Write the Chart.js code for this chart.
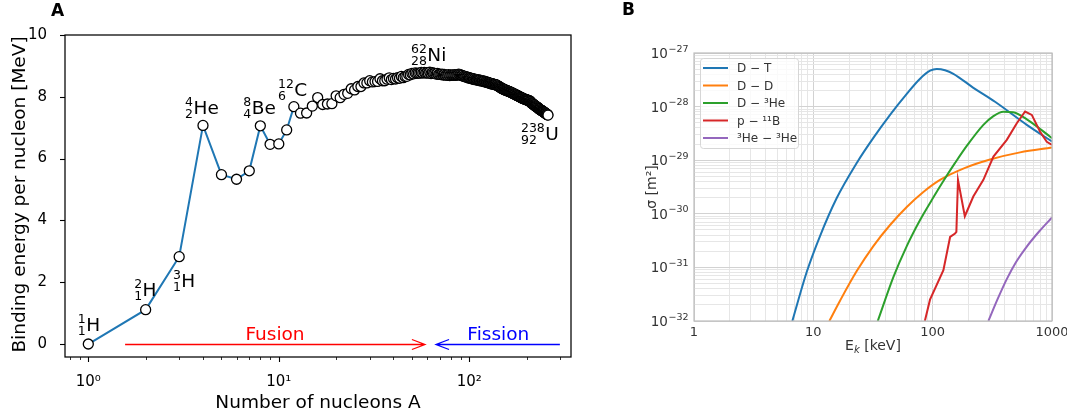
<!DOCTYPE html>
<html>
<head>
<meta charset="utf-8">
<script src="https://cdn.jsdelivr.net/npm/chart.js@4.4.1/dist/chart.umd.min.js"></script>
<style>
  body { margin: 0; background: #fff; }
  #panelA { position: absolute; left: 0; top: 0; }
  #panelB { position: absolute; left: 600px; top: 0; }
</style>
</head>
<body>
<canvas id="panelA" width="600" height="416"></canvas>
<canvas id="panelB" width="467" height="416"></canvas>
<script>
Chart.defaults.font.family = '"DejaVu Sans", sans-serif';

// ---------- panel A: binding energy per nucleon, one value per mass number A = 1, 2, 3 ...
const bindingEnergy = [
  0.000, 1.112, 2.827, 7.074, 5.480, 5.332, 5.606, 7.062, 6.463, 6.475,
  6.928, 7.680, 7.470, 7.476, 7.699, 7.976, 7.751, 7.767, 7.779, 8.032,
  7.972, 8.081, 8.112, 8.261, 8.224, 8.334, 8.332, 8.448, 8.449, 8.521,
  8.481, 8.493, 8.498, 8.584, 8.520, 8.520, 8.570, 8.614, 8.557, 8.595,
  8.576, 8.617, 8.600, 8.658, 8.619, 8.656, 8.661, 8.723, 8.711, 8.756,
  8.742, 8.776, 8.760, 8.764, 8.765, 8.790, 8.770, 8.792, 8.768, 8.781,
  8.765, 8.795, 8.752, 8.778, 8.757, 8.760, 8.734, 8.756, 8.725, 8.730,
  8.718, 8.732, 8.705, 8.725, 8.701, 8.711, 8.695, 8.718, 8.688, 8.711,
  8.696, 8.711, 8.696, 8.717, 8.697, 8.712, 8.705, 8.733, 8.714, 8.710,
  8.693, 8.693, 8.664, 8.667, 8.649, 8.654, 8.635, 8.635, 8.609, 8.619,
  8.601, 8.607, 8.584, 8.587, 8.571, 8.580, 8.554, 8.561, 8.548, 8.551,
  8.537, 8.545, 8.527, 8.539, 8.514, 8.523, 8.510, 8.517, 8.499, 8.505,
  8.482, 8.488, 8.472, 8.474, 8.458, 8.463, 8.446, 8.443, 8.431, 8.437,
  8.416, 8.428, 8.410, 8.412, 8.398, 8.403, 8.392, 8.393, 8.378, 8.376,
  8.355, 8.347, 8.330, 8.327, 8.309, 8.304, 8.284, 8.278, 8.264, 8.261,
  8.244, 8.244, 8.229, 8.227, 8.213, 8.215, 8.204, 8.202, 8.189, 8.184,
  8.173, 8.174, 8.162, 8.161, 8.147, 8.142, 8.132, 8.130, 8.115, 8.106,
  8.098, 8.097, 8.087, 8.085, 8.070, 8.064, 8.052, 8.049, 8.038, 8.035,
  8.024, 8.018, 8.008, 8.005, 7.991, 7.985, 7.978, 7.973, 7.963, 7.963,
  7.948, 7.948, 7.934, 7.936, 7.927, 7.926, 7.916, 7.914, 7.905, 7.906,
  7.895, 7.896, 7.886, 7.880, 7.874, 7.875, 7.870, 7.868, 7.848, 7.834,
  7.811, 7.804, 7.792, 7.785, 7.772, 7.765, 7.753, 7.747, 7.734, 7.727,
  7.715, 7.709, 7.697, 7.692, 7.680, 7.675, 7.663, 7.658, 7.647, 7.644,
  7.633, 7.615, 7.604, 7.600, 7.591, 7.586, 7.576, 7.570, 7.560, 7.556,
  7.546, 7.541, 7.531, 7.526, 7.516, 7.511, 7.501, 7.496, 7.485, 7.480,
  7.470, 7.465, 7.455, 7.449, 7.439, 7.434, 7.423, 7.417, 7.407
];
const massNumbers = bindingEnergy.map((_, i) => i + 1);

const yTicksA = [0, 2, 4, 6, 8, 10];
const xTicksA = [1, 10, 100];
const xTickLabelsA = ['10⁰', '10¹', '10²'];

const isotopeMass = ['1', '2', '3', '4', '8', '12', '62', '238'];
const isotopeZ = ['1', '1', '1', '2', '4', '6', '28', '92'];
const isotopeSymbol = ['H', 'H', 'H', 'He', 'Be', 'C', 'Ni', 'U'];

// label anchors in data units (A, MeV): left edge of the numbers, baseline of the symbol
const isotopeLabelPos = [
  [0.88, 0.41], [1.74, 1.54], [2.78, 1.84], [3.22, 7.45],
  [6.51, 7.45], [9.9, 8.02], [49.4, 9.17], [186.8, 6.59]
];

// ---------- panel B: cross sections (E in keV, sigma in m^2)
const energyDT = [6.67, 8.80, 11.38, 15.71, 23.11, 31.84, 43.95, 60.67, 78.4, 95.1, 108.2, 127, 149.1, 219.4, 333, 615, 1000];
const sigmaDT = [1.0e-32, 8.2e-32, 3.85e-31, 1.97e-30, 8.9e-30, 2.61e-29, 7.03e-29, 1.73e-28, 3.31e-28, 4.67e-28, 5.02e-28, 4.77e-28, 4.10e-28, 2.24e-28, 1.23e-28, 4.57e-29, 2.23e-29];

const energyDD = [13.62, 16.74, 23.11, 31.84, 43.95, 60.67, 83.56, 115.3, 186.9, 302.8, 540.2, 1000];
const sigmaDD = [1.0e-32, 2.39e-32, 8.53e-32, 2.50e-31, 6.18e-31, 1.34e-30, 2.55e-30, 4.28e-30, 7.18e-30, 1.03e-29, 1.40e-29, 1.72e-29];

const energyDHe = [34.66, 46.84, 60.67, 78.43, 98.3, 122.98, 154.1, 193.1, 266.1, 320.8, 391.4, 472.1, 615, 1000];
const sigmaDHe = [1.0e-32, 6.59e-32, 2.50e-31, 7.66e-31, 1.81e-30, 4.10e-30, 8.9e-30, 1.85e-29, 4.57e-29, 6.59e-29, 8.0e-29, 7.82e-29, 5.79e-29, 2.58e-29];

const energyPB = [86, 95, 123, 140, 154, 158, 163, 186, 219, 266, 323, 418, 507, 595, 677, 795, 904, 1000];
const sigmaPB = [1e-32, 2.5e-32, 8.9e-32, 3.7e-31, 4.3e-31, 4.6e-31, 4.3e-30, 9.0e-31, 2.1e-30, 4.3e-30, 1.17e-29, 2.4e-29, 4.9e-29, 8.1e-29, 7.0e-29, 3.4e-29, 2.2e-29, 1.94e-29];

const energyHeHe = [293.1, 349.9, 417.9, 500.1, 615, 779.6, 1000];
const sigmaHeHe = [1.0e-32, 2.55e-32, 6.04e-32, 1.26e-31, 2.45e-31, 4.67e-31, 8.53e-31];

const reactionLabels = ['D − T', 'D − D', 'D − ³He', 'p − ¹¹B', '³He − ³He'];
const reactionColors = ['#1f77b4', '#ff7f0e', '#2ca02c', '#d62728', '#9467bd'];

const energyTicks = [1, 10, 100, 1000];
const energyTickLabels = ['1', '10', '100', '1000'];
const sigmaTicks = [1e-32, 1e-31, 1e-30, 1e-29, 1e-28, 1e-27];
const sigmaTickExponents = ['−32', '−31', '−30', '−29', '−28', '−27'];

// 2..9 between the decades
function minorTicks(majors) {
  const out = [];
  majors.slice(0, -1).forEach(d => {
    for (let m = 2; m <= 9; m++) out.push(m * d);
  });
  return out;
}

// ---------- panel A extras: box, tick marks, isotope names, arrows, titles
const panelAExtras = {
  id: 'panelAExtras',
  afterDraw(chart) {
    const { ctx, chartArea: area, scales: { x, y } } = chart;
    ctx.save();
    ctx.strokeStyle = '#000';

    // tick marks (outside)
    const minorX = minorTicks([0.1, 1, 10, 100, 1000]).filter(v => v >= x.min && v <= x.max);
    const markX = (v, len, w) => {
      const px = Math.round(x.getPixelForValue(v)) + 0.5;
      ctx.lineWidth = w;
      ctx.beginPath(); ctx.moveTo(px, area.bottom); ctx.lineTo(px, area.bottom + len); ctx.stroke();
    };
    xTicksA.forEach(v => markX(v, 5, 1.1));
    minorX.forEach(v => markX(v, 3, 0.8));
    yTicksA.forEach(v => {
      const py = Math.round(y.getPixelForValue(v)) + 0.5;
      ctx.lineWidth = 1.1;
      ctx.beginPath(); ctx.moveTo(area.left - 5, py); ctx.lineTo(area.left, py); ctx.stroke();
    });

    ctx.lineWidth = 1.25;
    ctx.strokeRect(area.left, area.top, area.right - area.left, area.bottom - area.top);

    // isotope names
    ctx.fillStyle = '#000';
    ctx.textAlign = 'left';
    ctx.textBaseline = 'alphabetic';
    isotopeSymbol.forEach((sym, i) => {
      const [a, e] = isotopeLabelPos[i];
      const px = x.getPixelForValue(a);
      const py = y.getPixelForValue(e);
      ctx.font = '12.5px "DejaVu Sans"';
      ctx.fillText(isotopeMass[i], px, py - 8);
      ctx.fillText(isotopeZ[i], px, py + 4);
      const w = Math.max(ctx.measureText(isotopeMass[i]).width, ctx.measureText(isotopeZ[i]).width);
      ctx.font = '18.5px "DejaVu Sans"';
      ctx.fillText(sym, px + w + 0.5, py);
    });

    // fusion / fission arrows along y = 0
    const arrow = (from, to, color) => {
      const x0 = x.getPixelForValue(from);
      const x1 = x.getPixelForValue(to);
      const yy = Math.round(y.getPixelForValue(0)) + 0.5;
      const dir = Math.sign(x1 - x0);
      ctx.strokeStyle = color;
      ctx.lineWidth = 1.3;
      ctx.beginPath();
      ctx.moveTo(x0, yy); ctx.lineTo(x1, yy);
      ctx.moveTo(x1 - dir * 13, yy - 5); ctx.lineTo(x1, yy); ctx.lineTo(x1 - dir * 13, yy + 5);
      ctx.stroke();
    };
    arrow(1.56, 58.5, '#ff0000');
    arrow(299, 66.9, '#0000ff');

    ctx.font = '18.5px "DejaVu Sans"';
    ctx.textAlign = 'center';
    const textY = y.getPixelForValue(0) - 3.6;
    ctx.fillStyle = '#ff0000';
    ctx.fillText('Fusion', x.getPixelForValue(9.55), textY);
    ctx.fillStyle = '#0000ff';
    ctx.fillText('Fission', x.getPixelForValue(142), textY);

    // axis titles
    ctx.fillStyle = '#000';
    ctx.fillText('Number of nucleons A', (area.left + area.right) / 2, 408);
    ctx.save();
    ctx.translate(25, 194.5);
    ctx.rotate(-Math.PI / 2);
    ctx.fillText('Binding energy per nucleon [MeV]', 0, 0);
    ctx.restore();

    ctx.font = 'bold 17px "DejaVu Sans"';
    ctx.textAlign = 'left';
    ctx.fillText('A', 51, 16);
    ctx.restore();
  }
};

new Chart(document.getElementById('panelA'), {
  type: 'line',
  data: {
    datasets: [{
      data: massNumbers.map((a, i) => ({ x: a, y: bindingEnergy[i] })),
      borderColor: '#1f77b4',
      borderWidth: 2,
      pointRadius: 5,
      pointBackgroundColor: '#ffffff',
      pointBorderColor: '#000000',
      pointBorderWidth: 1.3,
      tension: 0
    }]
  },
  options: {
    responsive: false,
    animation: false,
    events: [],
    layout: { padding: { top: 35, right: 29, left: 0, bottom: 0 } },
    plugins: { legend: { display: false }, tooltip: { enabled: false } },
    scales: {
      x: {
        type: 'logarithmic',
        min: 0.7545,
        max: 342,
        grid: { display: false },
        border: { display: false },
        afterBuildTicks: s => { s.ticks = xTicksA.map(v => ({ value: v })); },
        afterFit: s => { s.height = 59; s.paddingLeft = 0; s.paddingRight = 0; },
        ticks: {
          autoSkip: false, maxRotation: 0, padding: 8, color: '#000',
          font: { size: 15 },
          callback: (v, i) => xTickLabelsA[i]
        }
      },
      y: {
        type: 'linear',
        min: -0.42,
        max: 10,
        grid: { display: false },
        border: { display: false },
        afterBuildTicks: s => { s.ticks = yTicksA.map(v => ({ value: v })); },
        afterFit: s => { s.width = 65; s.paddingTop = 0; s.paddingBottom = 0; },
        ticks: { padding: 10, color: '#000', font: { size: 15 }, callback: v => String(v) }
      }
    }
  },
  plugins: [panelAExtras]
});

// ---------- panel B extras: frame, y tick labels, legend, titles
const panelBExtras = {
  id: 'panelBExtras',
  afterDraw(chart) {
    const { ctx, chartArea: area, scales: { y } } = chart;
    ctx.save();
    ctx.strokeStyle = '#bdbdbd';
    ctx.lineWidth = 1.2;
    ctx.strokeRect(area.left, area.top, area.right - area.left, area.bottom - area.top);

    // y tick labels 10^n with a raised exponent
    ctx.fillStyle = '#333';
    ctx.textAlign = 'left';
    ctx.textBaseline = 'alphabetic';
    sigmaTicks.forEach((v, i) => {
      const py = y.getPixelForValue(v);
      ctx.font = '13.5px "DejaVu Sans"';
      const w10 = ctx.measureText('10').width;
      ctx.font = '9.5px "DejaVu Sans"';
      const wExp = ctx.measureText(sigmaTickExponents[i]).width;
      const x0 = area.left - 6 - wExp - w10;
      ctx.font = '13.5px "DejaVu Sans"';
      ctx.fillText('10', x0, py + 5);
      ctx.font = '9.5px "DejaVu Sans"';
      ctx.fillText(sigmaTickExponents[i], x0 + w10 + 0.5, py - 1.5);
    });

    // legend box
    ctx.beginPath();
    ctx.roundRect(100.5, 58.5, 98, 90, 3);
    ctx.fillStyle = 'rgba(255,255,255,0.8)';
    ctx.fill();
    ctx.strokeStyle = '#d6d6d6';
    ctx.lineWidth = 1;
    ctx.stroke();
    ctx.font = '12px "DejaVu Sans"';
    ctx.textBaseline = 'middle';
    chart.data.datasets.forEach((ds, i) => {
      const ry = 68 + i * 17.5;
      ctx.strokeStyle = ds.borderColor;
      ctx.lineWidth = 2;
      ctx.beginPath(); ctx.moveTo(103, ry); ctx.lineTo(128, ry); ctx.stroke();
      ctx.fillStyle = '#333';
      ctx.fillText(ds.label, 137, ry + 1);
    });

    // axis titles
    ctx.fillStyle = '#333';
    ctx.textBaseline = 'alphabetic';
    ctx.font = '14px "DejaVu Sans"';
    const cx = (area.left + area.right) / 2;
    const wE = ctx.measureText('E').width;
    const wRest = ctx.measureText(' [keV]').width;
    ctx.font = 'italic 10px "DejaVu Sans"';
    const wk = ctx.measureText('k').width;
    const tx = cx - (wE + wk + wRest) / 2;
    ctx.font = '14px "DejaVu Sans"';
    ctx.fillText('E', tx, 350);
    ctx.font = 'italic 10px "DejaVu Sans"';
    ctx.fillText('k', tx + wE, 353);
    ctx.font = '14px "DejaVu Sans"';
    ctx.fillText(' [keV]', tx + wE + wk, 350);

    ctx.save();
    ctx.translate(56, (area.top + area.bottom) / 2);
    ctx.rotate(-Math.PI / 2);
    ctx.textAlign = 'center';
    ctx.fillText('σ [m²]', 0, 0);
    ctx.restore();

    ctx.fillStyle = '#000';
    ctx.font = 'bold 17px "DejaVu Sans"';
    ctx.textAlign = 'left';
    ctx.fillText('B', 22, 15);
    ctx.restore();
  }
};

const energySeries = [energyDT, energyDD, energyDHe, energyPB, energyHeHe];
const sigmaSeries = [sigmaDT, sigmaDD, sigmaDHe, sigmaPB, sigmaHeHe];

const gridColor = c => (c.tick && c.tick.major ? '#d2d2d2' : '#e6e6e6');

new Chart(document.getElementById('panelB'), {
  type: 'line',
  data: {
    datasets: reactionLabels.map((label, i) => ({
      label,
      data: energySeries[i].map((e, j) => ({ x: e, y: sigmaSeries[i][j] })),
      borderColor: reactionColors[i],
      borderWidth: 2,
      pointRadius: 0,
      cubicInterpolationMode: i === 3 ? 'default' : 'monotone',
      tension: 0,
      order: reactionLabels.length - i
    }))
  },
  options: {
    responsive: false,
    animation: false,
    events: [],
    layout: { padding: { top: 53, right: 15, left: 0, bottom: 0 } },
    plugins: { legend: { display: false }, tooltip: { enabled: false } },
    scales: {
      x: {
        type: 'logarithmic',
        min: 1,
        max: 1000,
        grid: { color: gridColor, lineWidth: 1, drawTicks: false },
        border: { display: false },
        afterBuildTicks: s => {
          s.ticks = energyTicks.map(v => ({ value: v, major: true }))
            .concat(minorTicks(energyTicks).map(v => ({ value: v, major: false })));
        },
        afterFit: s => { s.height = 95; s.paddingLeft = 0; s.paddingRight = 0; },
        ticks: {
          autoSkip: false, maxRotation: 0, padding: 4, color: '#333',
          font: { size: 13 },
          callback: (v, i, ticks) => (ticks[i].major ? energyTickLabels[energyTicks.indexOf(v)] : '')
        }
      },
      y: {
        type: 'logarithmic',
        min: 1e-32,
        max: 1e-27,
        grid: { color: gridColor, lineWidth: 1, drawTicks: false },
        border: { display: false },
        afterBuildTicks: s => {
          s.ticks = sigmaTicks.map(v => ({ value: v, major: true }))
            .concat(minorTicks(sigmaTicks).map(v => ({ value: v, major: false })));
        },
        afterFit: s => { s.width = 94; s.paddingTop = 0; s.paddingBottom = 0; },
        ticks: { display: false, autoSkip: false }
      }
    }
  },
  plugins: [panelBExtras]
});
</script>
</body>
</html>
